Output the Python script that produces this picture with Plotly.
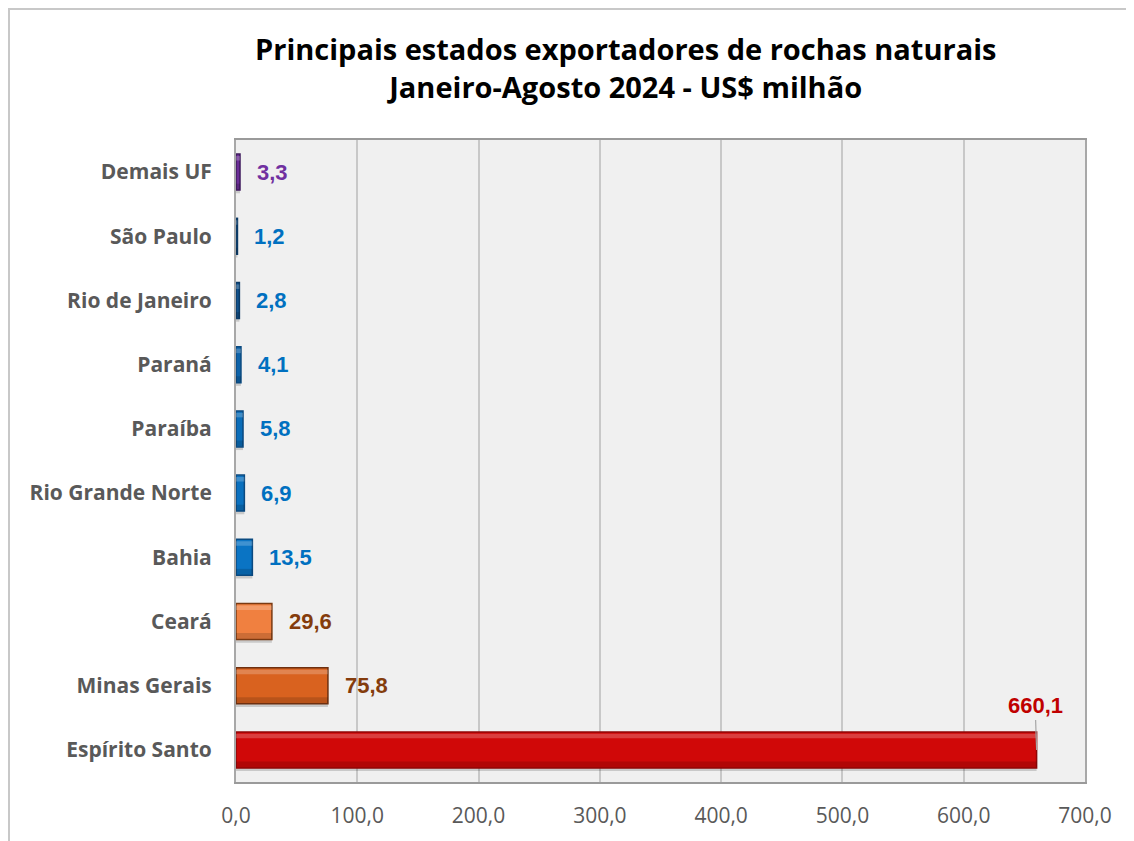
import plotly.graph_objects as go

categories = ["Espírito Santo", "Minas Gerais", "Ceará", "Bahia", "Rio Grande Norte",
              "Paraíba", "Paraná", "Rio de Janeiro", "São Paulo", "Demais UF"]
values = [660.1, 75.8, 29.6, 13.5, 6.9, 5.8, 4.1, 2.8, 1.2, 3.3]
labels = ["660,1", "75,8", "29,6", "13,5", "6,9", "5,8", "4,1", "2,8", "1,2", "3,3"]
bar_colors = ["#D00808", "#D9621F", "#F08040", "#0A74C4", "#0A70BE", "#0A6DB8",
              "#0D62A8", "#12528C", "#1A4A78", "#6A2C96"]
line_colors = ["#8E0606", "#6E3010", "#7A3A12", "#0B4A80", "#0B4A80", "#0B4A80",
               "#0B4A80", "#0B3A66", "#0B3A66", "#3E1A5C"]
label_colors = ["#C00000", "#843C0C", "#843C0C", "#0070C0", "#0070C0", "#0070C0",
                "#0070C0", "#0070C0", "#0070C0", "#7030A0"]
tick_vals = [0, 100, 200, 300, 400, 500, 600, 700]
tick_text = ["0,0", "100,0", "200,0", "300,0", "400,0", "500,0", "600,0", "700,0"]

W, H = 1126, 833
L, R, T, B = 228, 1077, 132, 774  # plot area in figure pixels
pw, ph = R - L, B - T

fig = go.Figure()
# shadow
fig.add_trace(go.Bar(
    y=categories, x=values, orientation="h", width=0.56,
    marker=dict(color="rgba(0,0,0,0.16)", line=dict(width=0)),
    offset=-0.33, hoverinfo="skip", showlegend=False,
))
# main bars
fig.add_trace(go.Bar(
    y=categories, x=values, orientation="h", width=0.56,
    marker=dict(color=bar_colors, line=dict(color=line_colors, width=1.5)),
    showlegend=False,
))
# bevel highlight (top) and darker lower edge
fig.add_trace(go.Bar(
    y=categories, x=values, orientation="h", width=0.07, offset=0.18,
    marker=dict(color="rgba(255,255,255,0.22)", line=dict(width=0)),
    hoverinfo="skip", showlegend=False,
))
fig.add_trace(go.Bar(
    y=categories, x=values, orientation="h", width=0.09, offset=-0.27,
    marker=dict(color="rgba(0,0,0,0.15)", line=dict(width=0)),
    hoverinfo="skip", showlegend=False,
))

annotations = []
for cat, val, lab, col in zip(categories, values, labels, label_colors):
    if cat == "Espírito Santo":
        annotations.append(dict(
            x=val, y=cat, text=f"<b>{lab}</b>", showarrow=True, arrowhead=0,
            arrowcolor="#A6A6A6", arrowwidth=1.2, ax=-1, ay=-30,
            xanchor="center", yanchor="bottom",
            font=dict(family="Liberation Sans", size=22, color=col),
        ))
    else:
        annotations.append(dict(
            x=val, y=cat, text=f"<b>{lab}</b>", showarrow=False,
            xanchor="left", xshift=15,
            font=dict(family="Liberation Sans", size=22, color=col),
        ))

annotations.append(dict(
    xref="paper", yref="paper", x=(617 - L) / pw, y=1.0, yshift=32,
    text="<b>Principais estados exportadores de rochas naturais<br>Janeiro-Agosto 2024 - US$ milhão</b>",
    showarrow=False, xanchor="center", yanchor="bottom",
    font=dict(family="Open Sans", size=29, color="#000000"),
))

fig.update_layout(
    width=W, height=H,
    margin=dict(l=L, r=W - R, t=T, b=H - B),
    paper_bgcolor="white",
    plot_bgcolor="#F0F0F0",
    barmode="overlay",
    annotations=annotations,
    xaxis=dict(
        range=[0, 700], tickvals=tick_vals, ticktext=tick_text,
        showgrid=True, gridcolor="#C8C8C8", gridwidth=2,
        zeroline=False, ticks="outside", ticklen=14, tickcolor="rgba(0,0,0,0)",
        tickfont=dict(family="Open Sans", size=21, color="#595959"),
        showline=True, linecolor="#9A9A9A", linewidth=2, mirror=True,
    ),
    yaxis=dict(
        categoryorder="array", categoryarray=categories,
        range=[-0.5, 9.5],
        ticks="outside", ticklen=18, tickcolor="rgba(0,0,0,0)",
        tickfont=dict(family="Open Sans", size=21, color="#595959"),
        tickprefix="<b>", ticksuffix="</b>",
        showline=True, linecolor="#A8A8A8", linewidth=2, mirror=True,
        showgrid=False,
    ),
    shapes=[dict(
        type="rect", xref="paper", yref="paper",
        x0=(1 - L) / pw, x1=(W + 20 - L) / pw,
        y0=(B - (H + 20)) / ph, y1=(B - 1) / ph,
        line=dict(color="#C8C8C8", width=2), layer="below",
    )],
)

fig.write_html("out.html")
